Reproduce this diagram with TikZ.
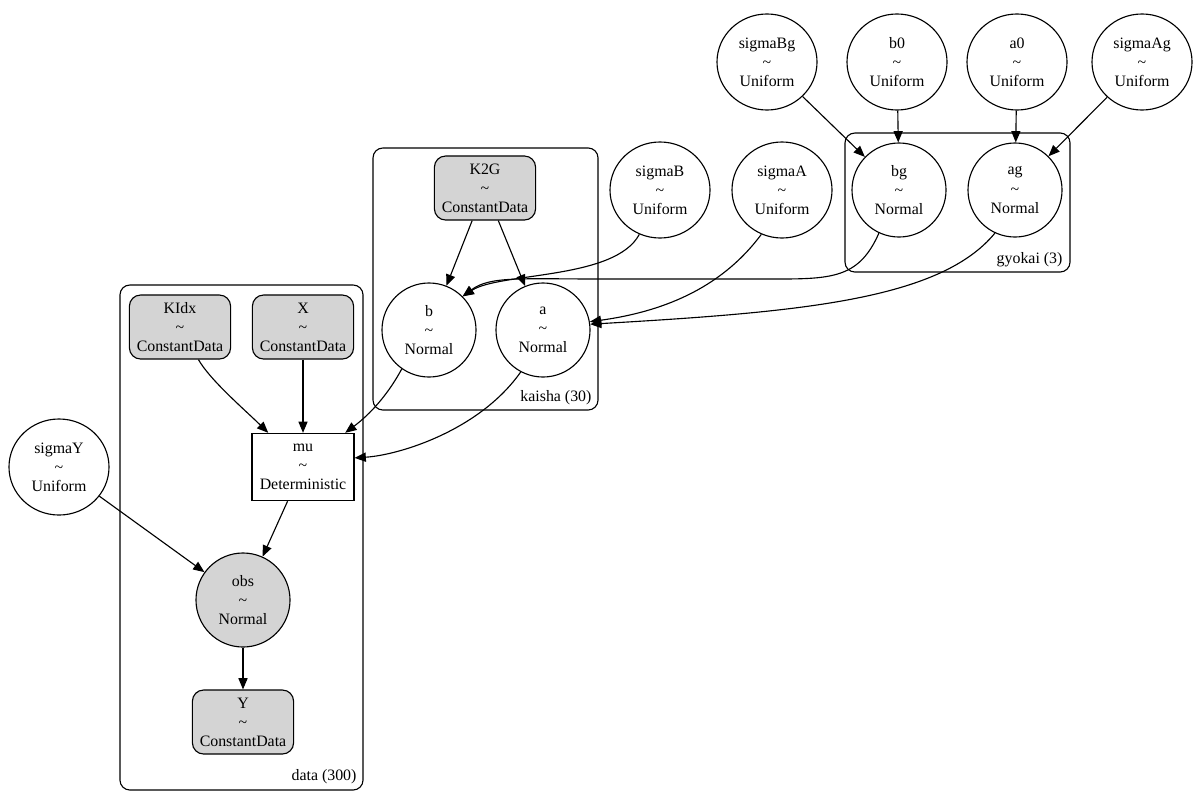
\documentclass[tikz,border=0pt]{standalone}
\usepackage{fontspec}
\setmainfont{Liberation Serif}
\usetikzlibrary{shapes.geometric,arrows.meta}

\begin{document}
\begin{tikzpicture}[x=0.025cm, y=-0.025cm, >={Triangle[length=8pt,width=6.5pt]}, line width=0.8pt,
    every node/.style={align=center, inner sep=0pt, font=\fontsize{11.3}{13.6}\selectfont},
    free/.style={ellipse, draw, fill=white, minimum width=2.5cm, minimum height=2.4cm},
    rv/.style={circle, draw, fill=white, minimum size=2.35cm},
    obsrv/.style={circle, draw, fill=black!17, minimum size=2.35cm},
    cdata/.style={rectangle, rounded corners=8pt, draw, fill=black!17, minimum width=2.53cm, minimum height=1.6cm},
    det/.style={rectangle, draw, fill=white, minimum width=2.55cm, minimum height=1.68cm},
    plate/.style={draw, rounded corners=7pt}]
  \useasboundingbox (0,0) rectangle (1200,796);

  % plates
  \draw[plate] (845,133) rectangle (1070,272);
  \draw[plate] (373,148) rectangle (598,410);
  \draw[plate] (120,285) rectangle (363,790);
  \node[anchor=east] (gyokai) at (1063,260) {gyokai (3)};
  \node[anchor=east] (kaisha) at (592,398) {kaisha (30)};
  \node[anchor=east] (data) at (357,777) {data (300)};

  % top row
  \node[free] (sBg) at (767,62) {sigmaBg\\\textasciitilde\\Uniform};
  \node[free] (b0) at (897,62) {b0\\\textasciitilde\\Uniform};
  \node[free] (a0) at (1017,62) {a0\\\textasciitilde\\Uniform};
  \node[free] (sAg) at (1142,62) {sigmaAg\\\textasciitilde\\Uniform};

  \node[rv] (bg) at (899,190) {bg\\\textasciitilde\\Normal};
  \node[rv] (ag) at (1015,190) {ag\\\textasciitilde\\Normal};
  \node[free] (sB) at (660,190) {sigmaB\\\textasciitilde\\Uniform};
  \node[free] (sA) at (782,190) {sigmaA\\\textasciitilde\\Uniform};
  \node[cdata] (K2G) at (485,188) {K2G\\\textasciitilde\\ConstantData};

  \node[rv] (b) at (429,330) {b\\\textasciitilde\\Normal};
  \node[rv] (a) at (543,330) {a\\\textasciitilde\\Normal};

  % data plate
  \node[cdata] (KIdx) at (180,327) {KIdx\\\textasciitilde\\ConstantData};
  \node[cdata] (X) at (303,327) {X\\\textasciitilde\\ConstantData};
  \node[det] (mu) at (303,467) {mu\\\textasciitilde\\Deterministic};
  \node[free] (sY) at (59,467) {sigmaY\\\textasciitilde\\Uniform};
  \node[obsrv] (obs) at (243,600) {obs\\\textasciitilde\\Normal};
  \node[cdata] (Y) at (243,722) {Y\\\textasciitilde\\ConstantData};

  % edges
  \draw[->] (sBg) -- (bg);
  \draw[->] (b0) -- (bg);
  \draw[->] (a0) -- (ag);
  \draw[->] (sAg) -- (ag);
  \draw[->] (K2G) -- (b);
  \draw[->] (K2G) -- (a);
  \draw[->] (sB.-115) .. controls (615,280) and (500,272) .. (b.45);
  \draw[->] (bg.-115) .. controls (860,276) and (835,279) .. (780,279) -- (600,279) .. controls (520,279) and (490,276) .. (b.45);
  \draw[->] (sA.-115) .. controls (720,290) and (660,312) .. (a.10);
  \draw[->] (ag.-115) .. controls (940,300) and (800,312) .. (a.7);
  \draw[->] (b.-125) .. controls (385,400) and (365,418) .. (mu.39);
  \draw[->] (a.-118) .. controls (480,430) and (400,455) .. (mu.10);
  \draw[->] (KIdx) .. controls (210,380) and (245,410) .. (mu);
  \draw[->] (X) -- (mu);
  \draw[->] (sY) -- (obs);
  \draw[->] (mu) -- (obs);
  \draw[->] (obs) -- (Y);
\end{tikzpicture}
\end{document}
